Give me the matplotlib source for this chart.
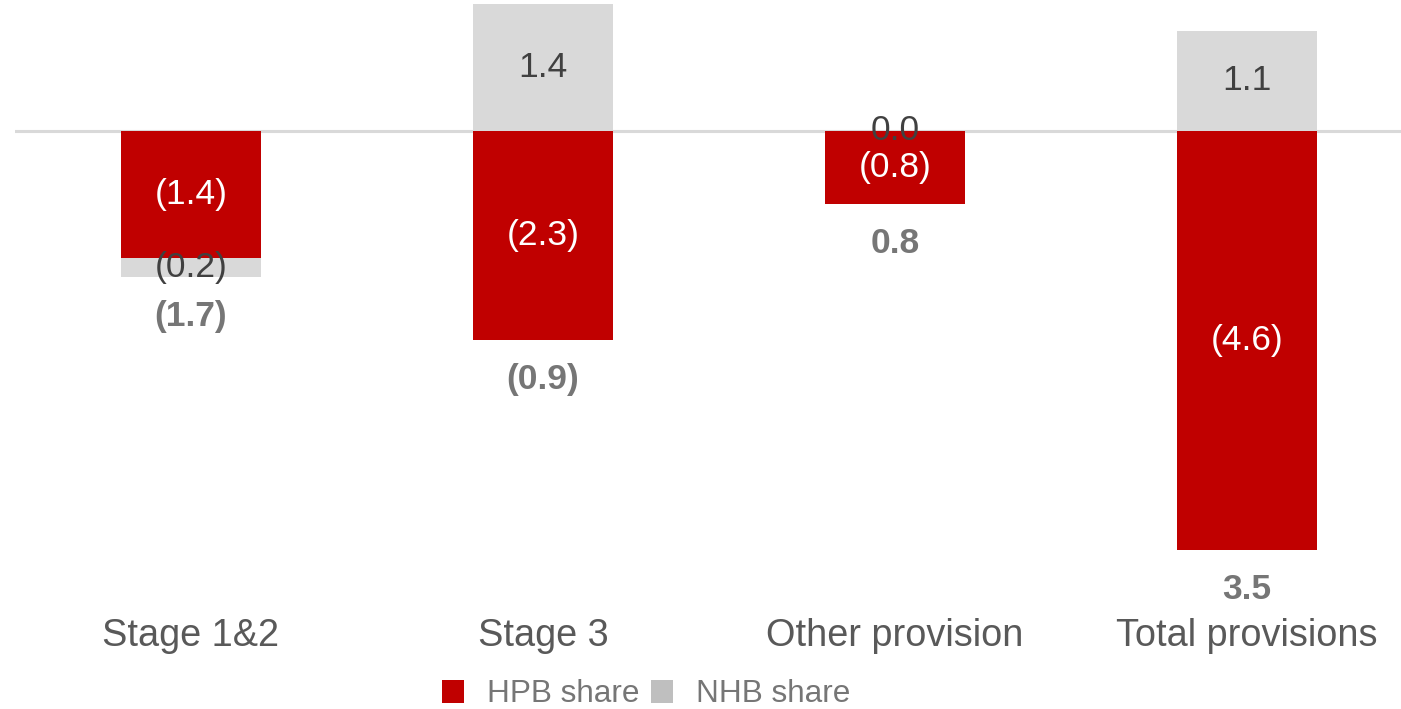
"""Provision bridge: HPB vs NHB share by stage"""

import matplotlib

matplotlib.use("Agg")
import matplotlib.pyplot as plt
import numpy as np
from matplotlib.patches import Patch

plt.rcParams["font.family"] = ["Liberation Sans", "DejaVu Sans"]

# 数据
categories = ["Stage 1&2", "Stage 3", "Other provision", "Total provisions"]
hpb_share = [-1.4, -2.3, -0.8, -4.6]
nhb_share = [-0.2, 1.4, 0.0, 1.1]
total_labels = ["(1.7)", "(0.9)", "0.8", "3.5"]

RED = "#C00000"
GREY = "#D9D9D9"
LEGEND_GREY = "#BFBFBF"
TEXT_GREY = "#595959"
LABEL_DARK = "#404040"
TOTAL_GREY = "#767676"


def fmt(v: float) -> str:
    """负数用括号表示"""
    return f"({abs(v):.1f})" if v < 0 else f"{v:.1f}"


fig = plt.figure(figsize=(14.01, 7.09), dpi=100, facecolor="white")
ax = fig.add_axes([15 / 1401, 109 / 709, 1386 / 1401, 600 / 709])

px_per_unit = 91.0
ax.set_xlim(-0.5, -0.5 + 1386 / 352)
ax.set_ylim(-(600 - 131) / px_per_unit, 131 / px_per_unit)

x = np.arange(len(categories))
width = 0.4
hpb = np.array(hpb_share)
nhb = np.array(nhb_share)

ax.axhline(0, color=GREY, lw=2.2, zorder=1)

ax.bar(x, hpb, width, color=RED, zorder=2)
nhb_bottom = np.where(nhb < 0, hpb, 0)
ax.bar(x, nhb, width, bottom=nhb_bottom, color=GREY, zorder=2)

# 段内标签
for i in range(len(x)):
    ax.text(x[i], hpb[i] / 2, fmt(hpb[i]), ha="center", va="center",
            fontsize=25.5, color="white", zorder=3)
    ax.text(x[i], nhb_bottom[i] + nhb[i] / 2, fmt(nhb[i]), ha="center",
            va="center", fontsize=25.5, color=LABEL_DARK, zorder=3)

    lowest = min(hpb[i] + min(nhb[i], 0), 0)
    ax.annotate(total_labels[i], (x[i], lowest), xytext=(0, -16.5),
                textcoords="offset points", ha="center", va="top",
                fontsize=25.5, fontweight="bold", color=TOTAL_GREY)

ax.set_xticks(x)
ax.set_xticklabels(categories, fontsize=27.3, color=TEXT_GREY)
ax.tick_params(axis="x", length=0, pad=13)
ax.set_yticks([])
for spine in ax.spines.values():
    spine.set_visible(False)

handles = [Patch(facecolor=RED), Patch(facecolor=LEGEND_GREY)]
fig.legend(
    handles,
    ["HPB share", "NHB share"],
    loc="center",
    bbox_to_anchor=(646 / 1401, 1 - 694.5 / 709),
    ncol=2,
    frameon=False,
    fontsize=22.7,
    labelcolor=TOTAL_GREY,
    handlelength=0.72,
    handleheight=0.72,
    handletextpad=0.72,
    columnspacing=0.35,
    borderpad=0,
)

fig.savefig("out.png", dpi=100, facecolor="white")
plt.close(fig)
